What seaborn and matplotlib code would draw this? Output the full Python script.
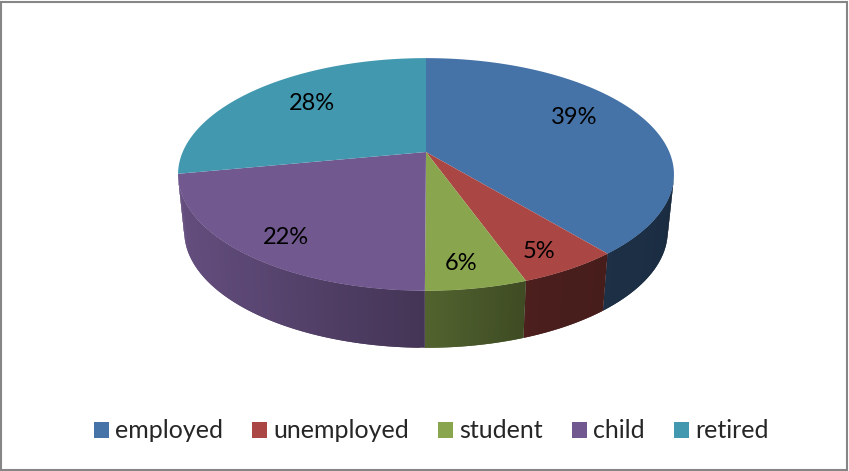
import numpy as np
import seaborn as sns
import matplotlib.pyplot as plt
from matplotlib.patches import Rectangle
from matplotlib.path import Path
from matplotlib.transforms import Affine2D, Transform

categories = ['employed', 'unemployed', 'student', 'child', 'retired']
shares = [39.05, 5.49, 5.52, 21.94, 28]
colors = ['#4572A7', '#AA4643', '#89A54E', '#71588F', '#4198AF']

sns.set_theme(style='white')
plt.rcParams['font.family'] = ['Lato', 'DejaVu Sans']
palette = sns.color_palette(colors)

# Excel style tilted pie: a projective map from the unit circle to pixels
CX, CY = 426, 152
WIDTH, HEIGHT, TILT = 243.3, 112, 0.193
DEPTH = 57
BOTTOM_SCALE = 0.975


def project(x, y, xscale=1.0, drop=0):
    w = 1 + TILT * y
    return CX + xscale * WIDTH * x / w, CY + drop - HEIGHT * y / w


class TiltTransform(Transform):
    input_dims = 2
    output_dims = 2
    is_separable = False

    def transform_non_affine(self, values):
        values = np.asarray(values)
        px, py = project(values[:, 0], values[:, 1])
        return np.column_stack([px, py])

    def transform_path_non_affine(self, path):
        # flatten the bezier arcs first, they do not survive the map otherwise
        flat = path.transformed(Affine2D().scale(2000)).cleaned(curves=False)
        return Path(self.transform(flat.vertices / 2000), flat.codes)


fig, ax = plt.subplots(figsize=(8.49, 4.71), dpi=100)
ax.set_position([0, 0, 1, 1])

wedges, texts, autotexts = ax.pie(shares, colors=palette, startangle=90, counterclock=False,
                                  autopct='%.0f%%', wedgeprops={'linewidth': 0},
                                  textprops={'fontsize': 17, 'color': 'black'})
ax.set_aspect('auto')
ax.set_xlim(0, 849)
ax.set_ylim(471, 0)
ax.axis('off')

tilt = TiltTransform() + ax.transData
for wedge in wedges:
    wedge.set_transform(tilt)
    wedge.set_zorder(3)

# side wall, only the front half shows, darker towards the front right
edges = np.cumsum([0] + shares) / sum(shares) * 2 * np.pi
for i, color in enumerate(palette):
    theta = np.linspace(edges[i], edges[i + 1], 80)
    theta = theta[np.cos(theta) <= -TILT]
    if len(theta) < 2:
        continue
    x, y = np.sin(theta), np.cos(theta)
    tx, ty = project(x, y)
    bx, by = project(x, y, BOTTOM_SCALE, DEPTH)
    shade = np.interp(x, [-1, -0.6, 0, 0.4, 0.8, 1], [0.9, 0.8, 0.6, 0.43, 0.41, 0.38])
    for j in range(len(theta) - 1):
        # each strip reaches into the next one so no seams show
        k = min(j + 2, len(theta) - 1)
        c = np.array(color) * shade[j]
        ax.fill([tx[j], tx[k], bx[k], bx[j]], [ty[j], ty[k], by[k], by[j]],
                color=c, lw=0, zorder=2)

label_pos = [(574, 118), (539, 252), (461, 264), (286, 238), (312, 104)]
for text, pos in zip(autotexts, label_pos):
    text.set_position(pos)
    text.set_zorder(4)

ax.add_patch(Rectangle((1.5, 1.5), 846, 468, fill=False, edgecolor='#868686', lw=1.5, zorder=5))

ax.legend(wedges, categories, ncol=5, loc='center', bbox_to_anchor=(431.5, 431),
          bbox_transform=ax.transData, frameon=False, fontsize=18, handlelength=0.6,
          handleheight=0.6, handletextpad=0.25, columnspacing=1.16, borderpad=0)

fig.savefig('out.png', dpi=100)
